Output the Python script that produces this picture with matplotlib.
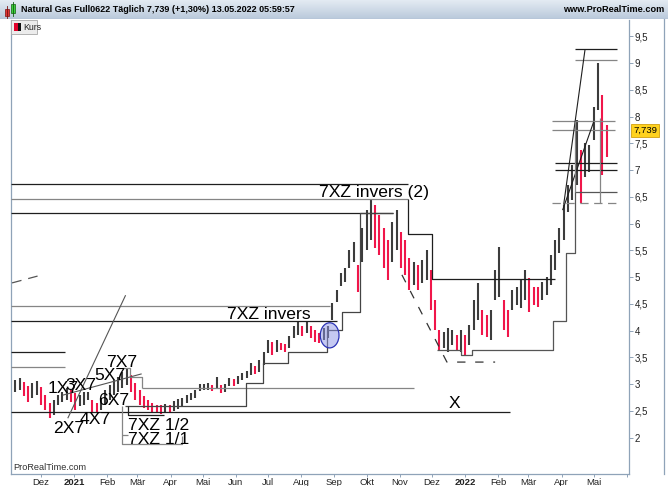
"""
Natural Gas Full0622 – Tageschart mit Zeichenwerkzeugen (ProRealTime-Nachbau)
"""
import numpy as np
import pandas as pd
import matplotlib
matplotlib.use("Agg")
import matplotlib.pyplot as plt
from matplotlib.patches import Rectangle, Ellipse
from matplotlib.transforms import blended_transform_factory
import matplotlib.dates as mdates

plt.rcParams["font.family"] = ["Liberation Sans", "DejaVu Sans"]
plt.rcParams["lines.scale_dashes"] = False

# ============== Daten ==============
bar_start = "2020-11-07"
bar_end = "2022-05-13"   # ein Balken je 4 Tage
hi = [3.07, 3.11, 3.04, 2.96, 3.02, 3.06, 2.94, 2.79, 2.64, 2.70,
      2.79, 2.85, 2.93, 2.89, 2.83, 2.79, 2.85, 2.85, 2.70, 2.64,
      2.74, 2.89, 2.98, 3.07, 3.13, 3.22, 3.30, 3.17, 3.02, 2.89,
      2.78, 2.70, 2.64, 2.61, 2.61, 2.63, 2.61, 2.68, 2.72, 2.74,
      2.79, 2.83, 2.89, 3.00, 3.00, 3.02, 2.98, 3.13, 2.98, 3.00,
      3.11, 3.09, 3.15, 3.21, 3.24, 3.39, 3.34, 3.45, 3.60, 3.82,
      3.79, 3.82, 3.77, 3.75, 3.90, 4.08, 4.16, 4.08, 4.16, 4.08,
      4.01, 3.95, 4.05, 4.08, 4.51, 4.76, 5.07, 5.17, 5.50, 5.65,
      5.22, 5.92, 6.25, 6.44, 6.35, 6.16, 5.92, 5.69, 6.03, 6.25,
      5.84, 5.69, 5.36, 5.28, 5.22, 5.32, 5.50, 5.13, 4.57, 4.01,
      3.98, 4.05, 4.01, 3.92, 4.01, 3.92, 4.10, 4.57, 4.89, 4.38,
      4.29, 4.38, 5.13, 5.56, 4.57, 4.38, 4.76, 4.81, 4.94, 5.13,
      4.98, 4.81, 4.81, 4.91, 5.00, 5.41, 5.69, 5.92, 6.35, 6.72,
      7.09, 7.93, 7.37, 7.50, 7.47, 8.18, 9.00, 8.40, 7.84]
lo = [2.85, 2.89, 2.78, 2.66, 2.74, 2.79, 2.61, 2.51, 2.36, 2.42,
      2.61, 2.66, 2.70, 2.66, 2.51, 2.59, 2.61, 2.70, 2.48, 2.48,
      2.51, 2.61, 2.70, 2.79, 2.85, 2.93, 2.98, 2.85, 2.70, 2.61,
      2.55, 2.51, 2.48, 2.46, 2.44, 2.48, 2.46, 2.50, 2.53, 2.57,
      2.64, 2.70, 2.74, 2.87, 2.89, 2.89, 2.87, 2.91, 2.83, 2.85,
      2.96, 2.96, 3.00, 3.07, 3.11, 3.17, 3.19, 3.22, 3.36, 3.58,
      3.54, 3.60, 3.64, 3.60, 3.67, 3.86, 3.92, 3.90, 3.95, 3.86,
      3.79, 3.77, 3.82, 3.86, 4.20, 4.53, 4.83, 4.91, 5.17, 5.28,
      4.72, 5.28, 5.50, 5.69, 5.54, 5.41, 5.17, 4.94, 5.28, 5.50,
      5.17, 5.04, 4.76, 4.85, 4.76, 4.89, 4.94, 4.38, 4.01, 3.64,
      3.67, 3.60, 3.73, 3.64, 3.60, 3.54, 3.73, 4.01, 4.20, 3.92,
      3.88, 3.82, 4.57, 4.63, 4.01, 3.88, 4.38, 4.48, 4.42, 4.57,
      4.35, 4.48, 4.44, 4.57, 4.66, 4.85, 5.13, 5.45, 5.69, 6.21,
      6.44, 6.72, 6.38, 6.87, 6.96, 7.56, 8.12, 6.91, 7.24]
last_close = 7.739

# Horizontale Linien: (von, bis, Kurs)
levels_dark = [("2020-11-03", "2021-11-09", 6.73),
               ("2020-11-03", "2021-10-26", 6.20),
               ("2020-11-03", "2021-09-03", 4.18),
               ("2020-11-03", "2020-12-23", 3.60),
               ("2020-11-03", "2022-02-12", 2.47),
               ("2022-04-14", "2022-05-23", 9.26),
               ("2022-03-26", "2022-05-23", 7.13),
               ("2022-03-26", "2022-05-23", 7.00)]
levels_grey = [("2020-11-03", "2021-11-09", 6.46),
               ("2020-11-03", "2021-08-28", 4.46),
               ("2020-11-03", "2020-12-23", 3.31),
               ("2021-03-05", "2021-11-14", 2.93),
               ("2022-04-14", "2022-05-23", 9.06),
               ("2022-03-23", "2022-05-21", 7.92),
               ("2022-03-23", "2022-05-21", 7.75)]

# Treppenlinien (Datum, Kurs)
step_support = [("2021-02-17", 2.59), ("2021-06-10", 2.59), ("2021-06-10", 3.02),
                ("2021-06-26", 3.02), ("2021-06-26", 3.39), ("2021-07-20", 3.39),
                ("2021-07-20", 3.59), ("2021-08-25", 3.59), ("2021-08-25", 4.01),
                ("2021-09-08", 4.01), ("2021-09-08", 4.35), ("2021-09-25", 4.35),
                ("2021-09-25", 6.20), ("2021-10-26", 6.20)]
step_resist = [("2021-11-09", 6.46), ("2021-11-09", 5.80), ("2021-12-01", 5.80),
               ("2021-12-01", 4.96), ("2022-03-26", 4.96)]
step_low = [("2021-12-06", 3.63), ("2021-12-28", 3.63), ("2021-12-28", 3.54),
            ("2022-01-07", 3.54), ("2022-01-07", 3.64), ("2022-03-24", 3.64),
            ("2022-03-24", 4.18), ("2022-04-05", 4.18), ("2022-04-05", 5.45),
            ("2022-04-14", 5.45), ("2022-04-14", 6.58), ("2022-05-23", 6.58)]

# 7X7-Kästen
box_top = [("2021-02-15", 3.30), ("2021-02-22", 3.30), ("2021-02-22", 3.14),
           ("2021-03-05", 3.14), ("2021-03-05", 2.93)]
box_outer = [("2021-02-15", 2.58), ("2021-02-15", 1.88), ("2021-04-12", 1.88),
             ("2021-04-12", 2.02)]
box_inner = [("2021-02-20", 2.58), ("2021-02-20", 2.42), ("2021-03-26", 2.42)]
box_tick = [("2021-02-15", 2.05), ("2021-02-20", 2.05)]

# Trendlinien
steep_line = [("2021-02-18", 4.66), ("2020-12-26", 2.36)]
fan_line = [("2020-12-21", 2.79), ("2021-03-05", 3.19)]
top_line = [("2022-04-23", 9.26), ("2022-04-03", 6.35)]
rise_line = [("2022-04-02", 6.25), ("2022-05-01", 7.90)]
vert_lines = [("2022-04-14", 6.58, 7.92), ("2022-05-07", 6.39, 7.98)]

# gestrichelte Linien
dash_left = [("2020-11-04", 4.89), ("2020-12-02", 5.04)]
dash_fall = [("2021-11-03", 5.04), ("2021-12-15", 3.41), ("2022-01-29", 3.41)]
dash_level = [("2022-03-23", 6.39), ("2022-05-23", 6.39)]

# Beschriftungen (Text, Datum links, Grundlinie)
labels = [("7XZ invers (2)", "2021-08-18", 6.50),
          ("7XZ invers", "2021-05-24", 4.215),
          ("X", "2021-12-17", 2.55),
          ("7X7", "2021-01-31", 3.32),
          ("5X7", "2021-01-20", 3.075),
          ("1X7", "2020-12-07", 2.83),
          ("3X7", "2020-12-24", 2.89),
          ("6X7", "2021-01-23", 2.61),
          ("4X7", "2021-01-06", 2.25),
          ("2X7", "2020-12-12", 2.08),
          ("7XZ 1/2", "2021-02-20", 2.14),
          ("7XZ 1/1", "2021-02-20", 1.87)]

ellipse_center = ("2021-08-27 12:00", 3.91)
ellipse_size = (17.5, 0.47)   # Tage, Kurs

month_names = {2: "Feb", 3: "Mär", 4: "Apr", 5: "Mai", 6: "Jun", 7: "Jul",
               8: "Aug", 9: "Sep", 10: "Okt", 11: "Nov", 12: "Dez"}

# ============== Figur ==============
W, H = 668, 486
fig = plt.figure(figsize=(W / 100, H / 100), dpi=100)
fig.patch.set_facecolor("white")

frame = "#8fa3b8"
dark = "#1e1e1e"
grey = "#858585"

ax = fig.add_axes([11 / W, 12 / H, 618 / W, 454 / H])
ax.set_facecolor("white")


def to_dt(s):
    return pd.Timestamp(s)


def draw_path(pts, color, lw=0.9, dashes=None):
    xs = [to_dt(d) for d, _ in pts]
    ys = [v for _, v in pts]
    kw = dict(color=color, lw=lw, solid_capstyle="butt", zorder=3)
    if dashes:
        kw["dashes"] = dashes
    ax.plot(xs, ys, **kw)


# ============== Kursbalken ==============
bar_dates = pd.date_range(bar_start, bar_end, freq="4D")
hi_a = np.array(hi)
lo_a = np.array(lo)
mid = (hi_a + lo_a) / 2
falling = np.r_[False, mid[1:] < mid[:-1]]
colors = np.where(falling, "#f0164a", "#3c3c3c")
ax.vlines(bar_dates, lo_a, hi_a, colors=colors, lw=1.5, zorder=2)

# ============== Zeichnungen ==============
for a, b, v in levels_dark:
    ax.hlines(v, to_dt(a), to_dt(b), color=dark, lw=0.9, zorder=3)
for a, b, v in levels_grey:
    ax.hlines(v, to_dt(a), to_dt(b), color=grey, lw=0.9, zorder=3)

draw_path(step_support, "#444444")
draw_path(step_resist, dark)
draw_path(step_low, "#555555")
draw_path(box_top, grey)
draw_path(box_outer, grey)
draw_path(box_inner, dark)
draw_path(box_tick, grey)
draw_path(steep_line, "#555555", lw=0.8)
draw_path(fan_line, "#555555", lw=0.8)
draw_path(top_line, dark, lw=0.8)
draw_path(rise_line, dark, lw=0.8)
for d, v0, v1 in vert_lines:
    ax.vlines(to_dt(d), v0, v1, color=grey, lw=0.9, zorder=3)

draw_path(dash_left, "#555555", dashes=(7, 5))
draw_path(dash_fall, "#333333", dashes=(6, 7))
draw_path(dash_level, grey, dashes=(6, 4))

for txt, d, v in labels:
    ax.text(to_dt(d), v, txt, fontsize=12.6, ha="left", va="baseline",
            color="black", zorder=4)

ell = Ellipse((mdates.date2num(to_dt(ellipse_center[0])), ellipse_center[1]),
              width=ellipse_size[0], height=ellipse_size[1],
              facecolor=(0.55, 0.58, 0.9, 0.5), edgecolor="#2b33b5",
              lw=0.9, zorder=4)
ax.add_patch(ell)

# ============== Achsen ==============
ax.set_xlim(to_dt("2020-11-03"), to_dt("2022-06-03"))
ax.set_ylim(1.318, 9.804)

yt = np.arange(2, 9.51, 0.5)
ax.yaxis.tick_right()
ax.set_yticks(yt)
ax.set_yticklabels([f"{v:g}".replace(".", ",") for v in yt])

tick_dates = pd.date_range("2020-12-01", "2022-06-01", freq="MS")
xl = [str(d.year) if d.month == 1 else month_names[d.month] for d in tick_dates]
xl[-1] = ""
ax.set_xticks(tick_dates.to_pydatetime())
ax.set_xticklabels(xl)
for lab in ax.get_xticklabels():
    if lab.get_text().startswith("20"):
        lab.set_fontweight("bold")

ax.tick_params(axis="y", direction="out", length=3, width=0.7, color=frame,
               labelsize=7, pad=1.2, labelcolor="#222222")
ax.tick_params(axis="x", direction="out", length=2.5, width=0.7, color=frame,
               labelsize=6.8, pad=0.6, labelcolor="#222222")
for side in ["left", "bottom", "right"]:
    ax.spines[side].set_color(frame)
    ax.spines[side].set_linewidth(0.9)
ax.spines["top"].set_visible(False)

# Letzter Kurs (gelbes Feld)
trans = blended_transform_factory(ax.transAxes, ax.transData)
ax.text(1.0065, last_close, f"{last_close:.3f}".replace(".", ","), transform=trans,
        fontsize=6.8, ha="left", va="center", color="black", zorder=6,
        bbox=dict(boxstyle="square,pad=0.18", fc="#ffd21f", ec="#d1a010", lw=0.6),
        clip_on=False)

# ============== Kopfzeile ==============
hdr = fig.add_axes([0, 1 - 19 / H, 1, 19 / H])
top_c = np.array([0.89, 0.92, 0.95])
bot_c = np.array([0.73, 0.79, 0.86])
grad = np.linspace(0, 1, 19)[:, None, None] * (bot_c - top_c) + top_c
hdr.imshow(np.repeat(grad, 2, axis=1), aspect="auto", extent=[0, W, 19, 0])
hdr.set_xlim(0, W)
hdr.set_ylim(19, 0)
hdr.axis("off")
hdr.plot([0, W], [18.6, 18.6], color="#8ea4ba", lw=0.8)
# kleines Kerzen-Symbol
hdr.plot([7, 7], [6, 18], color="#7a1010", lw=0.6)
hdr.add_patch(Rectangle((5, 9), 4, 7, fc="#e03535", ec="#7a1010", lw=0.5))
hdr.plot([13, 13], [2, 16], color="#106010", lw=0.6)
hdr.add_patch(Rectangle((11, 4), 4, 9, fc="#3cd23c", ec="#106010", lw=0.5))
hdr.text(21, 10, "Natural Gas Full0622 Täglich 7,739 (+1,30%) 13.05.2022 05:59:57",
         fontsize=6.5, fontweight="bold", va="center", ha="left", color="black")
hdr.text(664, 10, "www.ProRealTime.com", fontsize=6.6, fontweight="bold",
         va="center", ha="right", color="black")

# ============== Overlay (Legende, Rahmen, Wasserzeichen) ==============
ov = fig.add_axes([0, 0, 1, 1], zorder=5)
ov.set_xlim(0, W)
ov.set_ylim(H, 0)
ov.axis("off")
ov.patch.set_alpha(0)
ov.add_patch(Rectangle((11, 20), 26, 14, fc="#ececec", ec="#a8a8a8", lw=0.6))
ov.add_patch(Rectangle((14, 23), 4, 8, fc="#e0002a", ec="none"))
ov.add_patch(Rectangle((18, 23), 3, 8, fc="#101010", ec="none"))
ov.text(23, 27.5, "Kurs", fontsize=6.3, va="center", ha="left", color="#222222")
ov.text(13, 467.5, "ProRealTime.com", fontsize=6.6, va="center", ha="left",
        color="#303030")
ov.plot([664, 664], [19, 474], color=frame, lw=0.9)

fig.savefig("out.png", dpi=100)
